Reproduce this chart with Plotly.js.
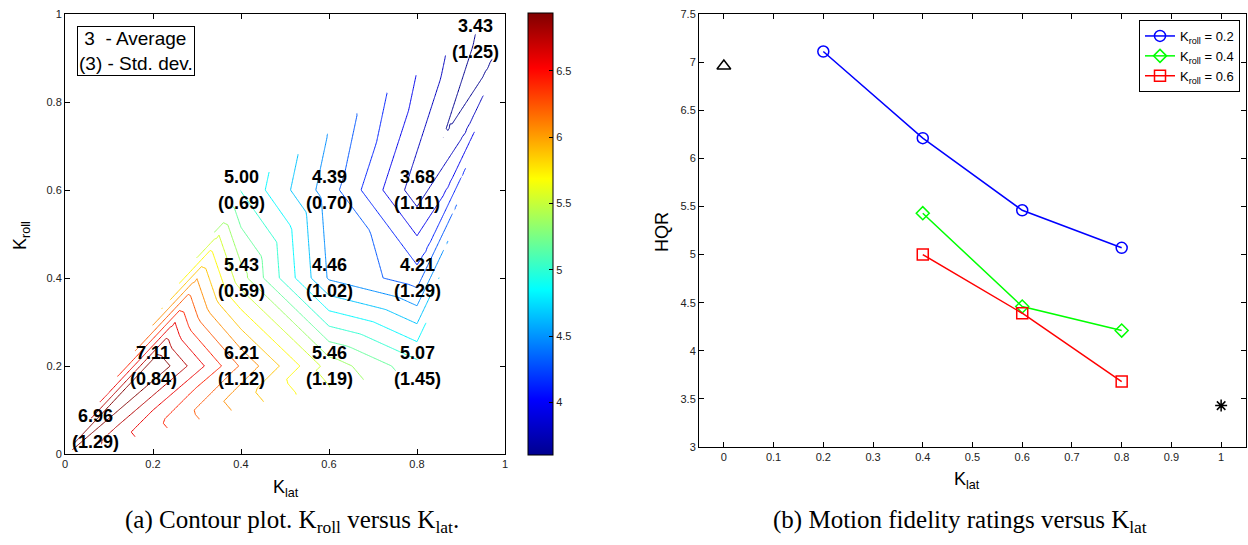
<!DOCTYPE html>
<html><head><meta charset="utf-8">
<script src="https://cdn.plot.ly/plotly-3.0.1.min.js"></script>
<style>html,body{margin:0;padding:0;background:#fff;} #chart{width:1248px;height:545px;}</style>
</head><body><div id="chart"></div>
<script>
const kLat   = [0, 0.2, 0.4, 0.6, 0.8, 0.4, 0.6, 0.8, 0.4, 0.6, 0.8, 1.0];
const kRoll  = [0, 0.2, 0.2, 0.2, 0.2, 0.4, 0.4, 0.4, 0.6, 0.6, 0.6, 1.0];
const hqrAvg = [6.96, 7.11, 6.21, 5.46, 5.07, 5.43, 4.46, 4.21, 5.00, 4.39, 3.68, 3.43];
const hqrStd = [1.29, 0.84, 1.12, 1.19, 1.45, 0.59, 1.02, 1.29, 0.69, 0.70, 1.11, 1.25];
const rollGroups = [0.2, 0.4, 0.6];
const groupColors = ['rgb(0,0,255)', 'rgb(0,255,0)', 'rgb(255,0,0)'];
const groupSymbols = ['circle-open', 'diamond-open', 'square-open'];
// triangulation of the measured points (indices), as used for linear interpolation
const triangles = [[0,1,2],[0,2,3],[0,3,4],[0,1,8],[1,2,5],[1,5,8],
                   [2,3,5],[3,6,5],[3,4,7],[3,7,6],[5,6,9],[5,9,8],
                   [6,7,9],[7,10,9],[4,7,11],[7,10,11],[10,9,11],[9,8,11]];
const nLevels = 20;
const ticksA = [0, 0.2, 0.4, 0.6, 0.8, 1];
const ticksBx = [0, 0.1, 0.2, 0.3, 0.4, 0.5, 0.6, 0.7, 0.8, 0.9, 1];
const ticksBy = [3, 3.5, 4, 4.5, 5, 5.5, 6, 6.5, 7, 7.5];
const cbTicks = [4, 4.5, 5, 5.5, 6, 6.5];

const jet = [[0,'rgb(0,0,143)'],[0.125,'rgb(0,0,255)'],[0.375,'rgb(0,255,255)'],
             [0.625,'rgb(255,255,0)'],[0.875,'rgb(255,0,0)'],[1,'rgb(128,0,0)']];

// ---- linear interpolation on the triangulation (like griddata) ----
function interp(x, y) {
  for (const [a,b,c] of triangles) {
    const x1=kLat[a], y1=kRoll[a], x2=kLat[b], y2=kRoll[b], x3=kLat[c], y3=kRoll[c];
    const det = (y2-y3)*(x1-x3) + (x3-x2)*(y1-y3);
    const l1 = ((y2-y3)*(x-x3) + (x3-x2)*(y-y3)) / det;
    const l2 = ((y3-y1)*(x-x3) + (x1-x3)*(y-y3)) / det;
    const l3 = 1 - l1 - l2;
    const e = -1e-9;
    if (l1 >= e && l2 >= e && l3 >= e) return l1*hqrAvg[a] + l2*hqrAvg[b] + l3*hqrAvg[c];
  }
  return null;
}
const N = 101;
const gx = [], gy = [];
for (let i = 0; i < N; i++) { gx.push(i/(N-1)); gy.push(i/(N-1)); }
const gz = gy.map(y => gx.map(x => interp(x, y)));

const zMin = Math.min(...hqrAvg), zMax = Math.max(...hqrAvg);
const step = (zMax - zMin) / (nLevels + 1);
const lev0 = zMin + step, lev1 = zMax - step;

const W = 1248, H = 545;
const px = v => v / W, py = v => 1 - v / H;

const traces = [];
traces.push({
  type: 'contour', x: gx, y: gy, z: gz, xaxis: 'x', yaxis: 'y',
  connectgaps: false,
  contours: { start: lev0, end: lev1, size: step, coloring: 'lines', showlabels: false },
  colorscale: jet, zauto: false, zmin: lev0, zmax: lev1,
  line: { width: 1, smoothing: 0 }, showscale: false, hoverinfo: 'skip', showlegend: false
});
traces.push({
  type: 'scatter', mode: 'markers', x: kLat, y: kRoll, xaxis: 'x', yaxis: 'y',
  marker: { color: hqrAvg, colorscale: jet, cmin: lev0, cmax: lev1, opacity: 0, size: 1,
    showscale: true,
    colorbar: { x: px(528), xanchor: 'left', y: py(13), yanchor: 'top', len: (455-13)/H, lenmode: 'fraction',
      thickness: 25, thicknessmode: 'pixels', xpad: 0, ypad: 0, outlinecolor: '#000', outlinewidth: 1,
      tickvals: cbTicks, ticks: 'inside', ticklen: 4, tickcolor: '#000',
      tickfont: { family: 'Liberation Sans, Arial, sans-serif', size: 11, color: '#222' } } },
  hoverinfo: 'skip', showlegend: false
});

rollGroups.forEach((g, k) => {
  const idx = kRoll.map((r, i) => i).filter(i => kRoll[i] === g && kLat[i] > 0 && kLat[i] < 1);
  traces.push({
    type: 'scatter', mode: 'lines+markers', xaxis: 'x2', yaxis: 'y2',
    x: idx.map(i => kLat[i]), y: idx.map(i => hqrAvg[i]),
    name: 'K<sub>roll</sub> = ' + g.toFixed(1),
    line: { color: groupColors[k], width: 1.5 },
    marker: { symbol: groupSymbols[k], size: k === 1 ? 10 : 11, color: groupColors[k], line: { width: 1.5, color: groupColors[k] } }
  });
});
const i0 = kLat.findIndex(v => v === 0), i1 = kLat.findIndex(v => v === 1);
traces.push({ type: 'scatter', mode: 'markers', xaxis: 'x2', yaxis: 'y2', x: [kLat[i0]], y: [hqrAvg[i0]],
  marker: { symbol: 'triangle-up-open', size: 12, color: '#000', line: { width: 1.5, color: '#000' } }, showlegend: false });
traces.push({ type: 'scatter', mode: 'markers', xaxis: 'x2', yaxis: 'y2', x: [kLat[i1]], y: [hqrAvg[i1]],
  marker: { symbol: 'asterisk-open', size: 10, color: '#000', line: { width: 1.5, color: '#000' } }, showlegend: false });

const tickFont = { family: 'Liberation Sans, Arial, sans-serif', size: 11, color: '#222' };
const axBase = { showline: true, linecolor: '#000', linewidth: 1, mirror: 'ticks', ticks: 'inside', ticklen: 5,
  tickcolor: '#000', showgrid: false, zeroline: false, tickfont: tickFont, fixedrange: true };

const ann = [];
const lblFont = { family: 'Liberation Sans, Arial, sans-serif', size: 18, color: '#000', weight: 'bold' };
kLat.forEach((x, i) => {
  const y = kRoll[i];
  const xs = x <= 0 ? 30 : (x >= 1 ? -30 : 0);
  const ys = y <= 0 ? 25 : (y >= 1 ? -25 : 0);
  ann.push({ xref: 'x', yref: 'y', x: x, y: y, text: '<b>' + hqrAvg[i].toFixed(2) + '</b>', showarrow: false,
    font: lblFont, xanchor: 'center', yanchor: 'middle', xshift: xs, yshift: ys + 13 });
  ann.push({ xref: 'x', yref: 'y', x: x, y: y, text: '<b>(' + hqrStd[i].toFixed(2) + ')</b>', showarrow: false,
    font: lblFont, xanchor: 'center', yanchor: 'middle', xshift: xs, yshift: ys - 13 });
});
const txtFont = { family: 'Liberation Sans, Arial, sans-serif', size: 18, color: '#000' };
const c = { showarrow: false, xref: 'paper', yref: 'paper', xanchor: 'center', yanchor: 'middle' };
ann.push({ xref: 'paper', yref: 'paper', x: px(77), y: py(26), xanchor: 'left', yanchor: 'top', align: 'left',
  text: '\u00a03\u00a0\u00a0- Average<br>(3) - Std. dev.', showarrow: false,
  font: { family: 'Liberation Sans, Arial, sans-serif', size: 19, color: '#000' },
  bordercolor: '#000', borderwidth: 1, borderpad: 1, bgcolor: '#fff' });
ann.push(Object.assign({}, c, { x: px(286), y: py(488), text: 'K<sub>lat</sub>', font: txtFont }));
ann.push(Object.assign({}, c, { x: px(21), y: py(236), text: 'K<sub>roll</sub>', font: txtFont, textangle: -90 }));
ann.push(Object.assign({}, c, { x: px(967), y: py(480), text: 'K<sub>lat</sub>', font: txtFont }));
ann.push(Object.assign({}, c, { x: px(662), y: py(232), text: 'HQR', font: txtFont, textangle: -90 }));
const capFont = { family: 'Liberation Serif, Times New Roman, serif', size: 25, color: '#000' };
ann.push(Object.assign({}, c, { x: px(292), y: py(521), text: '(a) Contour plot. K<sub>roll</sub> versus K<sub>lat</sub>.', font: capFont }));
ann.push(Object.assign({}, c, { x: px(960), y: py(521), text: '(b) Motion fidelity ratings versus K<sub>lat</sub>', font: capFont }));

const layout = {
  width: W, height: H, margin: { l: 0, r: 0, t: 0, b: 0 }, paper_bgcolor: '#fff', plot_bgcolor: '#fff',
  hovermode: false, showlegend: true,
  xaxis: Object.assign({}, axBase, { domain: [px(65), px(505)], range: [0, 1], tickvals: ticksA, anchor: 'y' }),
  yaxis: Object.assign({}, axBase, { domain: [py(454), py(14)], range: [0, 1], tickvals: ticksA, anchor: 'x' }),
  xaxis2: Object.assign({}, axBase, { domain: [px(699), px(1246)], range: [-0.05, 1.05], tickvals: ticksBx, anchor: 'y2' }),
  yaxis2: Object.assign({}, axBase, { domain: [py(447), py(14)], range: [3, 7.5], tickvals: ticksBy, anchor: 'x2' }),
  legend: { x: px(1240), xanchor: 'right', y: py(20), yanchor: 'top', bordercolor: '#000', borderwidth: 1, bgcolor: '#fff',
    font: { family: 'Liberation Sans, Arial, sans-serif', size: 13, color: '#000' }, tracegroupgap: 0 },
  annotations: ann
};
Plotly.newPlot('chart', traces, layout, { displayModeBar: false, staticPlot: true });
</script>
</body></html>
